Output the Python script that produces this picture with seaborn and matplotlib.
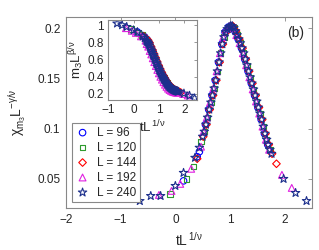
# Scaling collapse of chi_m3 and m3 (panel b)
# seaborn + matplotlib

import pandas as pd
import seaborn as sns
import matplotlib
matplotlib.use("Agg")
import matplotlib.pyplot as plt

# Data (x = tL^{1/nu})

sizes = [96, 120, 144, 192, 240]

x96 = [0.15, 0.40, 0.44, 0.55, 0.61, 0.67, 0.73, 0.79, 0.85, 0.91, 0.97, 1.03, 1.09,
       1.15, 1.21, 1.27, 1.33, 1.39, 1.45, 1.51, 1.57, 1.63, 1.69]
chi96 = [0.048, 0.072, 0.077, 0.104, 0.119, 0.133, 0.148, 0.166, 0.184, 0.196, 0.201,
         0.202, 0.197, 0.189, 0.180, 0.169, 0.157, 0.145, 0.133, 0.121, 0.109, 0.095, 0.084]
m96 = [0.92, 0.87, 0.86, 0.825, 0.79, 0.745, 0.705, 0.66, 0.615, 0.57, 0.525, 0.485,
       0.445, 0.415, 0.385, 0.355, 0.331, 0.30, 0.283, 0.268, 0.256, 0.247, 0.240]

x120 = [-0.10, 0.20, 0.33, 0.47, 0.53, 0.59, 0.65, 0.71, 0.77, 0.83, 0.89, 0.95, 1.01,
        1.07, 1.13, 1.19, 1.25, 1.31, 1.37, 1.43, 1.49, 1.55, 1.61, 1.67, 1.73]
chi120 = [0.035, 0.050, 0.062, 0.087, 0.097, 0.111, 0.126, 0.140, 0.157, 0.175, 0.191,
          0.199, 0.202, 0.200, 0.193, 0.185, 0.175, 0.163, 0.151, 0.139, 0.127, 0.115,
          0.102, 0.089, 0.079]
m120 = [0.955, 0.91, 0.885, 0.84, 0.825, 0.80, 0.755, 0.715, 0.67, 0.625, 0.58, 0.535,
        0.495, 0.455, 0.42, 0.39, 0.36, 0.33, 0.305, 0.285, 0.27, 0.257, 0.247, 0.239, 0.232]

x144 = [0.40, 0.51, 0.57, 0.63, 0.69, 0.75, 0.81, 0.87, 0.93, 0.99, 1.05, 1.11, 1.17,
        1.23, 1.29, 1.35, 1.41, 1.47, 1.53, 1.59, 1.65, 1.71, 1.77, 1.85]
chi144 = [0.070, 0.092, 0.104, 0.119, 0.133, 0.148, 0.166, 0.184, 0.196, 0.201, 0.202,
          0.197, 0.189, 0.180, 0.169, 0.157, 0.145, 0.133, 0.121, 0.109, 0.095, 0.084,
          0.075, 0.065]
m144 = [0.87, 0.84, 0.825, 0.795, 0.75, 0.71, 0.665, 0.62, 0.575, 0.53, 0.49, 0.45,
        0.415, 0.385, 0.352, 0.325, 0.302, 0.284, 0.268, 0.255, 0.245, 0.237, 0.23, 0.218]

x192 = [-0.30, -0.07, 0.09, 0.29, 0.47, 0.515, 0.575, 0.635, 0.695, 0.755, 0.815, 0.875,
        0.935, 0.995, 1.055, 1.115, 1.175, 1.235, 1.295, 1.355, 1.415, 1.475, 1.535,
        1.595, 1.655, 1.715, 1.95, 2.13]
chi192 = [0.034, 0.038, 0.045, 0.060, 0.082, 0.097, 0.111, 0.126, 0.140, 0.157, 0.175,
          0.191, 0.199, 0.202, 0.200, 0.193, 0.185, 0.175, 0.163, 0.151, 0.139, 0.127,
          0.115, 0.102, 0.089, 0.079, 0.054, 0.041]
m192 = [0.965, 0.935, 0.91, 0.87, 0.82, 0.78, 0.75, 0.70, 0.66, 0.615, 0.57, 0.525, 0.48,
        0.44, 0.40, 0.367, 0.337, 0.308, 0.283, 0.262, 0.247, 0.236, 0.227, 0.221, 0.217,
        0.213, 0.20, 0.183]

x240 = [-0.65, -0.45, -0.27, 0.00, 0.15, 0.36, 0.44,
        0.50, 0.53, 0.56, 0.59, 0.62, 0.65, 0.68, 0.71, 0.74, 0.77, 0.80, 0.83, 0.86, 0.89,
        0.92, 0.95, 0.98, 1.01, 1.04, 1.07, 1.10, 1.13, 1.16, 1.19, 1.22, 1.25, 1.28, 1.31,
        1.34, 1.37, 1.40, 1.43, 1.46, 1.49, 1.52, 1.55, 1.58, 1.61, 1.64, 1.67, 1.70, 1.73,
        1.76, 1.98, 2.20, 2.40]
chi240 = [0.028, 0.033, 0.033, 0.043, 0.056, 0.071, 0.081,
          0.092, 0.097, 0.104, 0.111, 0.119, 0.126, 0.133, 0.140, 0.148, 0.157, 0.166,
          0.175, 0.184, 0.191, 0.196, 0.199, 0.201, 0.202, 0.202, 0.200, 0.197, 0.193,
          0.189, 0.185, 0.180, 0.175, 0.169, 0.163, 0.157, 0.151, 0.145, 0.139, 0.133,
          0.127, 0.121, 0.115, 0.109, 0.102, 0.095, 0.089, 0.084, 0.079, 0.075,
          0.050, 0.036, 0.028]
m240 = [1.02, 1.00, 0.98, 0.94, 0.92, 0.87, 0.85,
        0.82, 0.81, 0.80, 0.785, 0.765, 0.74, 0.72, 0.70, 0.68, 0.655, 0.635, 0.61, 0.59,
        0.565, 0.545, 0.52, 0.50, 0.48, 0.46, 0.44, 0.42, 0.405, 0.39, 0.375, 0.36, 0.345,
        0.33, 0.318, 0.306, 0.295, 0.285, 0.277, 0.27, 0.263, 0.257, 0.251, 0.246, 0.242,
        0.238, 0.235, 0.232, 0.229, 0.226, 0.205, 0.18, 0.15]

xs = [x96, x120, x144, x192, x240]
chis = [chi96, chi120, chi144, chi192, chi240]
ms = [m96, m120, m144, m192, m240]

frames = []
for L, x, c, m in zip(sizes, xs, chis, ms):
    frames.append(pd.DataFrame({"L": L, "x": x, "chi": c, "m": m}))
df = pd.concat(frames, ignore_index=True)

# Style

sns.set_style("white")
plt.rcParams["font.family"] = ["Liberation Sans", "DejaVu Sans"]
plt.rcParams["mathtext.fontset"] = "custom"
plt.rcParams["mathtext.rm"] = "Liberation Sans"
plt.rcParams["mathtext.it"] = "Liberation Sans"
plt.rcParams["mathtext.bf"] = "Liberation Sans:bold"

markers = ["o", "s", "D", "^", "*"]
colors = ["#0000ff", "#2e9a2e", "#ff0000", "#e020e0", "#1c2f8c"]
msizes = [22, 15, 15, 24, 40]

edge = "#888888"
txt = "#262626"

fig = plt.figure(figsize=(3.19, 2.5), dpi=100)
ax = fig.add_axes([0.207, 0.168, 0.771, 0.764])

for L, mk, col, s in zip(sizes, markers, colors, msizes):
    sub = df[df["L"] == L]
    sns.scatterplot(data=sub, x="x", y="chi", ax=ax, marker=mk, s=s,
                    facecolor="none", edgecolor=col, linewidth=0.8,
                    label=f"L = {L}", legend=False)

ax.set_xlim(-2, 2.5)
ax.set_ylim(0.021, 0.211)
ax.set_xticks([-2, -1, 0, 1, 2])
ax.set_yticks([0.05, 0.1, 0.15, 0.2])
ax.set_yticklabels(["0.05", "0.1", "0.15", "0.2"])
ax.tick_params(direction="in", length=3, width=0.6, colors=edge, labelcolor=txt,
               labelsize=8.5, top=True, right=True, pad=4)
for sp in ax.spines.values():
    sp.set_color(edge)
    sp.set_linewidth(0.8)
ax.set_xlabel(r"$\mathrm{tL}^{\,1/\nu}$", fontsize=10, color=txt, labelpad=4)
ax.set_ylabel(r"$\chi_{m_3}\mathrm{L}^{-\gamma/\nu}$", fontsize=10, color=txt, labelpad=7)
ax.text(0.935, 0.915, "(b)", transform=ax.transAxes, fontsize=10, color=txt,
        ha="center", va="center")

leg = ax.legend(loc="lower left", bbox_to_anchor=(0.024, 0.031), borderaxespad=0,
                fontsize=8.5, frameon=True, fancybox=False, framealpha=1,
                edgecolor=edge, handlelength=1.2, handletextpad=0.6,
                labelspacing=0.25, borderpad=0.3, scatterpoints=1)
leg.get_frame().set_linewidth(0.8)
for t in leg.get_texts():
    t.set_color(txt)

# Inset

axin = fig.add_axes([0.339, 0.6, 0.279, 0.32])
for L, mk, col, s in zip(sizes, markers, colors, msizes):
    sub = df[df["L"] == L]
    sns.scatterplot(data=sub, x="x", y="m", ax=axin, marker=mk, s=s,
                    facecolor="none", edgecolor=col, linewidth=0.8, legend=False)

axin.set_xlim(-1, 2.5)
axin.set_ylim(0.13, 1.06)
axin.set_xticks([-1, 0, 1, 2])
axin.set_yticks([0.2, 0.4, 0.6, 0.8, 1])
axin.set_yticklabels(["0.2", "0.4", "0.6", "0.8", "1"])
axin.tick_params(direction="in", length=2.5, width=0.6, colors=edge, labelcolor=txt,
                 labelsize=8.5, top=True, right=True, pad=3)
for sp in axin.spines.values():
    sp.set_color(edge)
    sp.set_linewidth(0.8)
axin.set_xlabel(r"$\mathrm{tL}^{\,1/\nu}$", fontsize=9.5, color=txt, labelpad=2)
axin.set_ylabel(r"$\mathrm{m}_3\mathrm{L}^{\beta/\nu}$", fontsize=9.5, color=txt, labelpad=1)

plt.savefig("out.png", dpi=100)
